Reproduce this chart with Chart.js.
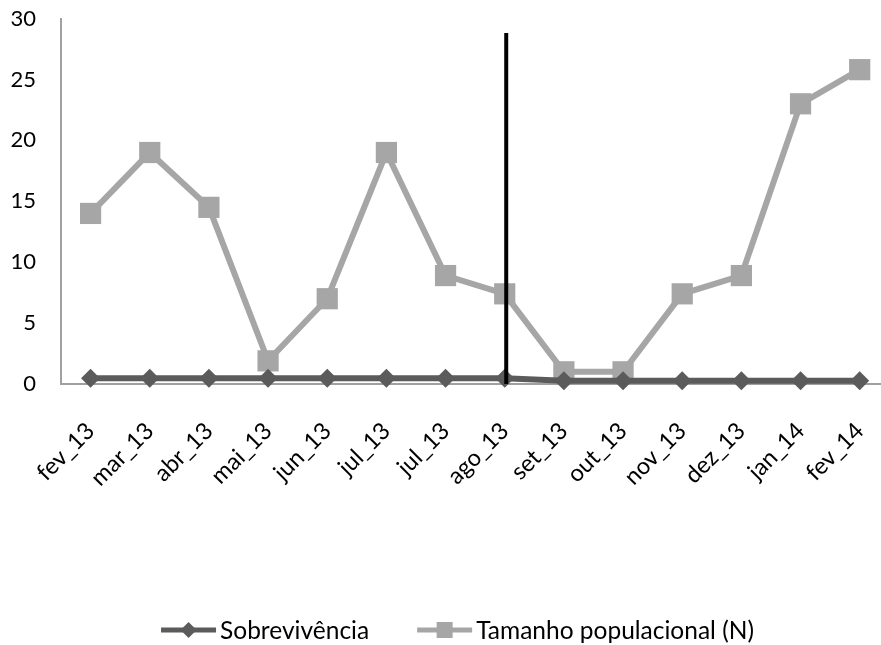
<!DOCTYPE html>
<html>
<head>
<meta charset="utf-8">
<script src="https://cdn.jsdelivr.net/npm/chart.js@4/dist/chart.umd.min.js"></script>
<style>
  html, body { margin: 0; padding: 0; background: #ffffff; overflow: hidden; }
  #wrap { width: 881px; height: 645px; position: relative; }
</style>
</head>
<body>
<div id="wrap"><canvas id="c" width="881" height="645"></canvas></div>
<script>
const categories = ['fev_13','mar_13','abr_13','mai_13','jun_13','jul_13','jul_13','ago_13','set_13','out_13','nov_13','dez_13','jan_14','fev_14'];
const sobrevivencia = [0.48,0.48,0.48,0.48,0.48,0.48,0.48,0.48,0.27,0.27,0.27,0.27,0.27,0.27];
const tamanho = [14,19,14.5,1.9,7,19,8.9,7.4,1,1,7.4,8.9,23,25.8];
const seriesNames = ['Sobrevivência','Tamanho populacional (N)'];
const yTicks = [0,5,10,15,20,25,30];
const markerCategory = 'ago_13';
const markerTop = 28.8;

const FONT = 'Lato, "Open Sans", sans-serif';
const darkGray = '#5b5b5b';
const lightGray = '#a6a6a6';
const axisGray = '#a0a0a0';

const toPoints = arr => arr.map((v, i) => ({ x: i, y: v }));

const markerLine = {
  id: 'markerLine',
  afterDatasetsDraw(chart) {
    const xs = chart.scales.x, ys = chart.scales.y;
    const idx = categories.indexOf(markerCategory);
    const px = xs.getPixelForValue(idx) + 1.5;
    const ctx = chart.ctx;
    ctx.save();
    ctx.strokeStyle = '#000000';
    ctx.lineWidth = 4;
    ctx.beginPath();
    ctx.moveTo(px, ys.getPixelForValue(0));
    ctx.lineTo(px, ys.getPixelForValue(markerTop));
    ctx.stroke();
    ctx.restore();
  }
};

const customLegend = {
  id: 'customLegend',
  afterDraw(chart) {
    const ctx = chart.ctx;
    ctx.save();
    ctx.font = '24.5px ' + FONT;
    const iconW = 55, gapText = 4, gapItems = 48;
    const w = seriesNames.map(t => ctx.measureText(t).width);
    const total = (iconW + gapText) * 2 + w[0] + w[1] + gapItems;
    const centerX = 457.5;
    const lineY = 630;
    const baseY = 639;
    let x = centerX - total / 2;
    const colors = [darkGray, lightGray];
    seriesNames.forEach((name, i) => {
      const c = colors[i];
      ctx.strokeStyle = c;
      ctx.lineWidth = 5;
      ctx.beginPath();
      ctx.moveTo(x, lineY);
      ctx.lineTo(x + iconW, lineY);
      ctx.stroke();
      ctx.fillStyle = c;
      const mx = x + iconW / 2;
      ctx.beginPath();
      if (i === 0) {
        ctx.moveTo(mx, lineY - 8); ctx.lineTo(mx + 8, lineY); ctx.lineTo(mx, lineY + 8); ctx.lineTo(mx - 8, lineY);
      } else {
        ctx.rect(mx - 8, lineY - 8, 16, 16);
      }
      ctx.closePath();
      ctx.fill();
      ctx.fillStyle = '#000000';
      ctx.textBaseline = 'alphabetic';
      ctx.textAlign = 'left';
      ctx.fillText(name, x + iconW + gapText, baseY);
      x += iconW + gapText + w[i] + gapItems;
    });
    ctx.restore();
  }
};

new Chart(document.getElementById('c'), {
  type: 'line',
  data: {
    datasets: [
      {
        label: seriesNames[0],
        data: toPoints(sobrevivencia),
        borderColor: darkGray,
        backgroundColor: darkGray,
        borderWidth: 6,
        pointStyle: 'rectRot',
        pointRadius: 9.5,
        pointBorderWidth: 0,
        pointBackgroundColor: darkGray,
        tension: 0,
        clip: false,
        order: 1
      },
      {
        label: seriesNames[1],
        data: toPoints(tamanho),
        borderColor: lightGray,
        backgroundColor: lightGray,
        borderWidth: 6,
        pointStyle: 'rect',
        pointRadius: 15,
        pointBorderWidth: 0,
        pointBackgroundColor: lightGray,
        tension: 0,
        clip: false,
        order: 2
      }
    ]
  },
  options: {
    responsive: false,
    animation: false,
    events: [],
    layout: { autoPadding: false, padding: { top: 18.5, left: 0, right: 0, bottom: 0 } },
    plugins: {
      tooltip: { enabled: false },
      legend: { display: false }
    },
    scales: {
      x: {
        type: 'linear',
        min: -0.5,
        max: 13.36,
        grid: { display: false, drawTicks: false },
        border: { display: true, color: axisGray, width: 2 },
        afterBuildTicks(scale) { scale.ticks = categories.map((_, i) => ({ value: i })); },
        afterFit(scale) { scale.height = 261; scale.paddingLeft = 0; scale.paddingRight = 0; },
        ticks: {
          autoSkip: false,
          maxRotation: 45,
          minRotation: 45,
          padding: 33,
          color: '#000000',
          font: { family: FONT, size: 23.5 },
          callback: (v) => categories[v]
        }
      },
      y: {
        min: 0,
        max: 30,
        grid: { display: false, drawTicks: false },
        border: { display: true, color: axisGray, width: 2 },
        afterBuildTicks(scale) { scale.ticks = yTicks.map(v => ({ value: v })); },
        afterFit(scale) { scale.width = 61; scale.paddingTop = 0; scale.paddingBottom = 0; },
        ticks: {
          padding: 25,
          color: '#000000',
          font: { family: FONT, size: 22 }
        }
      }
    }
  },
  plugins: [markerLine, customLegend]
});
</script>
</body>
</html>
